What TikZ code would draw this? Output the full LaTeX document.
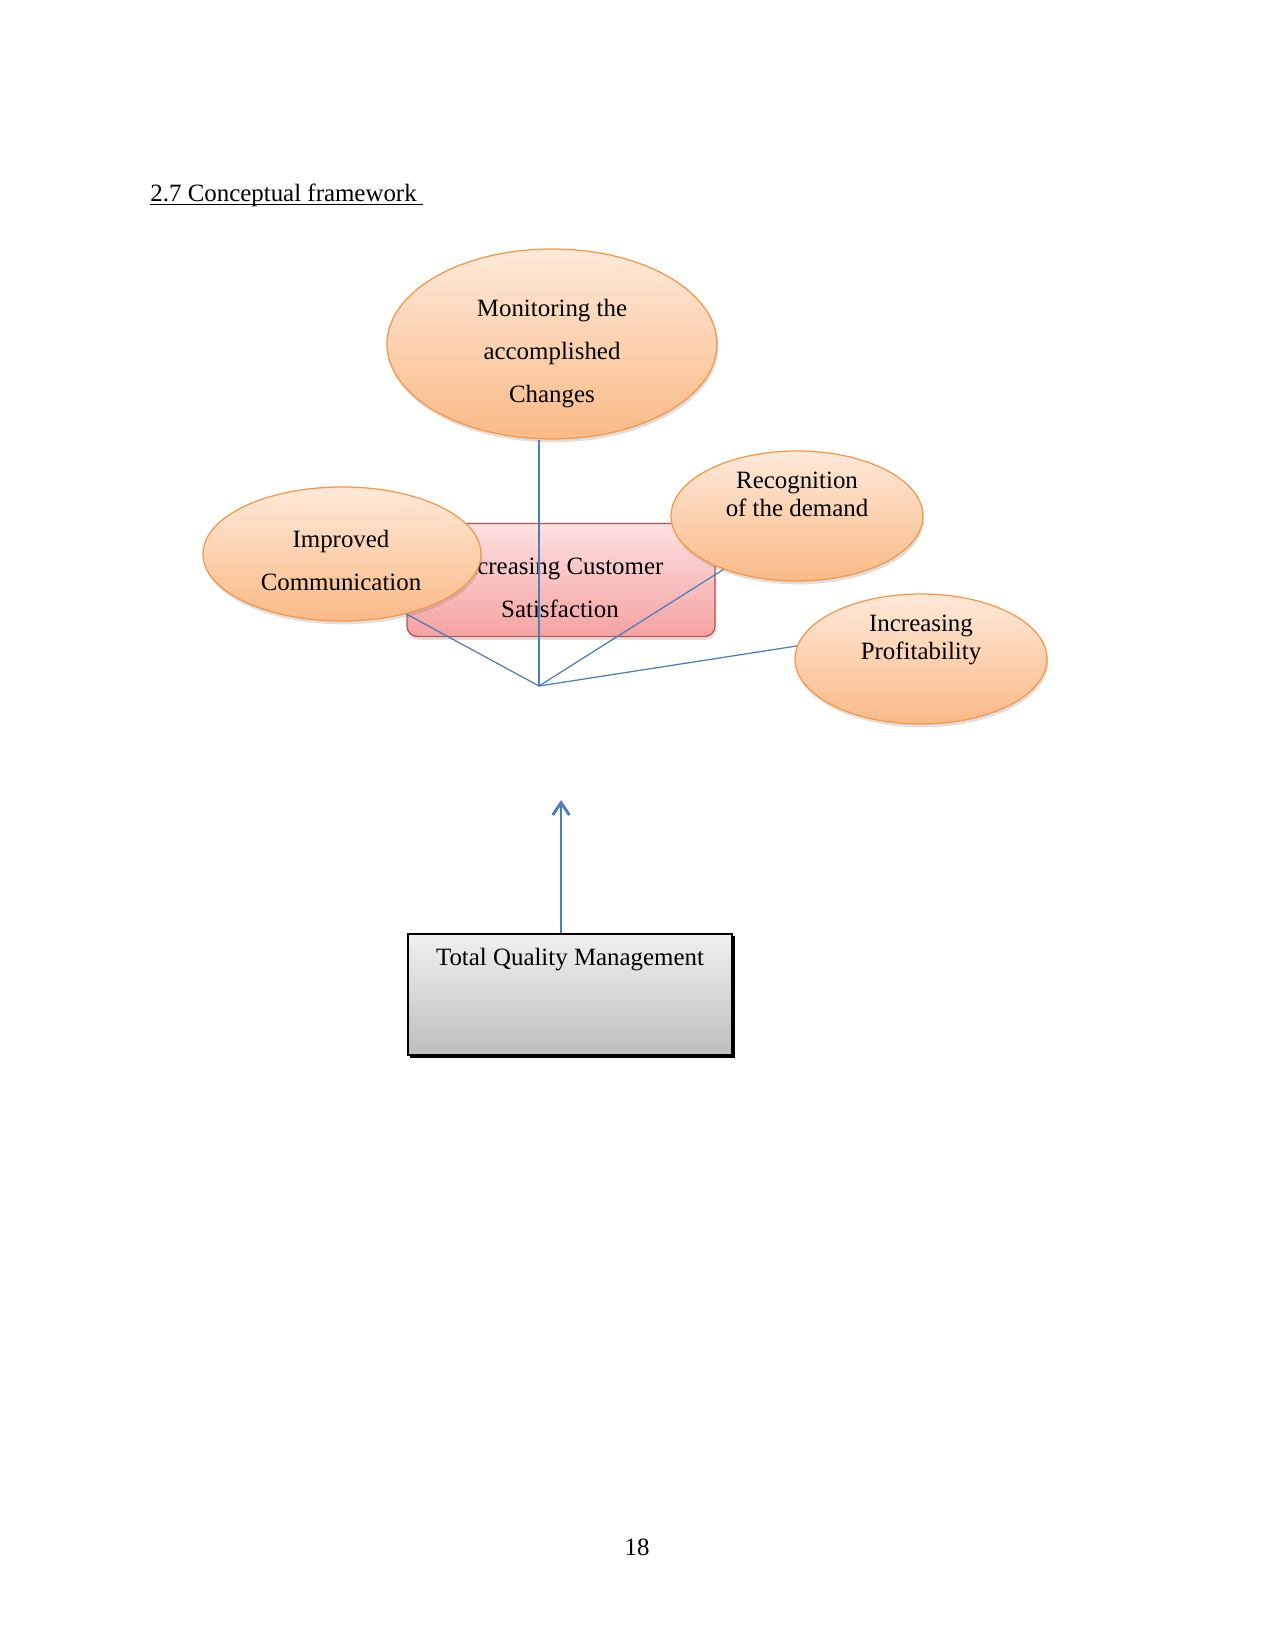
\documentclass[tikz,border=0pt]{standalone}
\usepackage{fontspec}
\setmainfont{Liberation Serif}
\usetikzlibrary{shapes.geometric, shadows, arrows.meta}
\def\pxu{0.4818pt}
\definecolor{ellborder}{HTML}{F79646}
\definecolor{elltop}{HTML}{FDE9D9}
\definecolor{ellbot}{HTML}{FABA86}
\definecolor{pinktop}{HTML}{FCE0E0}
\definecolor{pinkbot}{HTML}{F5A2A2}
\definecolor{pinkborder}{HTML}{C0504D}
\definecolor{linkblue}{HTML}{4A7EBB}
\definecolor{graytop}{HTML}{F0F0F0}
\definecolor{graybot}{HTML}{BEBEBE}
\begin{document}
\begin{tikzpicture}[x=0.4818pt, y=-0.4818pt,
  oval/.style={ellipse, draw=ellborder, line width=0.6pt, top color=elltop, bottom color=ellbot, inner sep=0pt,
    drop shadow={shadow xshift=0.6pt, shadow yshift=-1.6pt, opacity=0.25}},
  lbl/.style={font=\fontsize{12}{13.5}\selectfont, align=center, inner sep=0pt},
  lblwide/.style={font=\fontsize{12}{20.7}\selectfont, align=center, inner sep=0pt},
  link/.style={draw=linkblue, line width=0.6pt},
]
\path[fill=white, use as bounding box] (0,0) rectangle (1275,1650);

\node[lbl, anchor=base west] (title) at (150,202) {2.7 Conceptual framework\ };
\draw[line width=0.5pt] ([yshift=-1.3pt]title.base west) -- ([yshift=-1.3pt]title.base east);

% central rectangle
\node[draw=pinkborder, line width=0.6pt, rounded corners=5pt, top color=pinktop, bottom color=pinkbot,
  minimum width=308*\pxu, minimum height=113*\pxu, inner sep=0pt,
  drop shadow={shadow xshift=0.6pt, shadow yshift=-1.6pt, opacity=0.25}] (ics) at (561,580) {};
\node[lblwide] (icsT) at (560,588) {Increasing Customer\\Satisfaction};

% ellipses
\node[oval, minimum width=278*\pxu, minimum height=134*\pxu] (imp) at (342,554) {};
\node[lblwide] (impT) at (341,560) {Improved\\Communication};

\node[oval, minimum width=330*\pxu, minimum height=190*\pxu] (mon) at (552,344) {};
\node[lblwide] (monT) at (552,354) {Monitoring the\\accomplished\\Changes};

\node[oval, minimum width=252*\pxu, minimum height=130*\pxu] (rec) at (797,516) {};
\node[lbl] (recT) at (797,494) {Recognition\\of the demand};

\node[oval, minimum width=252*\pxu, minimum height=130*\pxu] (pro) at (921,659) {};
\node[lbl] (proT) at (921,640) {Increasing\\Profitability};

% connectors
\coordinate (j) at (539,686);
\draw[link] (j |- mon.south) -- (j);
\draw[link] (imp.-43) -- (j);
\draw[link] (rec.-144) -- (j);
\draw[link] (pro.174) -- (j);

% TQM box
\node[draw=black, line width=0.8pt, top color=graytop, bottom color=graybot,
  minimum width=324*\pxu, minimum height=121*\pxu, inner sep=0pt,
  drop shadow={shadow xshift=1.2pt, shadow yshift=-1.2pt, opacity=1, fill=black}] (tqm) at (570,994.5) {};
\node[lbl, anchor=base] (tqmT) at (570,965) {Total Quality Management};

\coordinate (tip) at (561,800);
\draw[link, -{Straight Barb[length=6pt,width=8pt,line width=1.4pt]}] (tqm.north -| tip) -- (tip);

\node[lbl, anchor=base] (pg) at (637,1555) {18};
\end{tikzpicture}
\end{document}
